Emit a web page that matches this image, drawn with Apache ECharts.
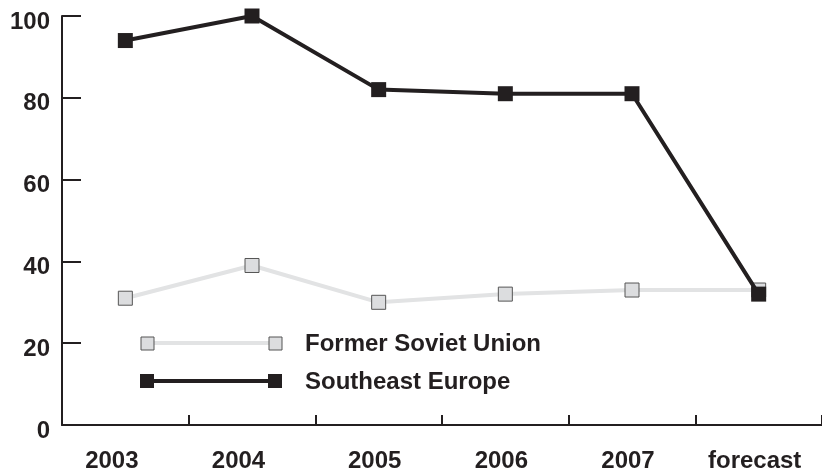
<!DOCTYPE html>
<html><head><meta charset="utf-8">
<script src="https://cdn.jsdelivr.net/npm/echarts@6/dist/echarts.min.js"></script>
<style>html,body{margin:0;padding:0;background:#fff}#c{width:822px;height:473px}</style>
</head><body><div id="c"></div>
<script>
const categories = ['2003','2004','2005','2006','2007','forecast'];
const formerSovietUnion = [31, 39, 30, 32, 33, 33];
const southeastEurope = [94, 100, 82, 81, 81, 32];
const yTicks = [0, 20, 40, 60, 80, 100];

const dark = '#231f20';
const font = '"Liberation Sans", Arial, sans-serif';
const chart = echarts.init(document.getElementById('c'), null, {renderer:'canvas'});
chart.setOption({
  animation:false,
  grid:{left:62, right:-5, top:16, bottom:48, containLabel:false},
  xAxis:{type:'category', data:categories, boundaryGap:true,
    axisLine:{lineStyle:{color:dark, width:2}},
    axisTick:{show:true, inside:true, length:10, interval:0, alignWithLabel:false, lineStyle:{color:dark, width:2}},
    axisLabel:{interval:0, hideOverlap:false, color:dark, fontFamily:font, fontWeight:'bold', fontSize:24, margin:24,
      formatter:(v, i) => (i < 2 ? '{a|' : '{b|') + v + '}',
      rich:{
        a:{color:dark, fontFamily:font, fontWeight:'bold', fontSize:24, padding:[0,27,0,0]},
        b:{color:dark, fontFamily:font, fontWeight:'bold', fontSize:24, padding:[0,8,0,0]}
      }}},
  yAxis:{type:'value', min:yTicks[0], max:yTicks[yTicks.length-1], interval:20,
    splitLine:{show:false},
    axisLine:{show:true, lineStyle:{color:dark, width:2}},
    axisTick:{show:true, inside:true, length:19, lineStyle:{color:dark, width:2}},
    axisLabel:{color:dark, fontFamily:font, fontWeight:'bold', fontSize:24, margin:12, verticalAlign:'top', lineHeight:12}},
  series:[
    {name:'Former Soviet Union', type:'line', data:formerSovietUnion, symbol:'rect', symbolSize:14,
     lineStyle:{color:'#e2e3e4', width:4}, itemStyle:{color:'#dcdddf', borderColor:'#555', borderWidth:1}, z:2},
    {name:'Southeast Europe', type:'line', data:southeastEurope, symbol:'rect', symbolSize:15,
     lineStyle:{color:dark, width:4}, itemStyle:{color:dark}, z:3}
  ],
  graphic:[
    {type:'line', shape:{x1:147,y1:343,x2:275,y2:343}, style:{stroke:'#e2e3e4', lineWidth:4}},
    {type:'rect', shape:{x:141,y:337,width:13,height:13}, style:{fill:'#dcdddf', stroke:'#555', lineWidth:1}},
    {type:'rect', shape:{x:269,y:337,width:13,height:13}, style:{fill:'#dcdddf', stroke:'#555', lineWidth:1}},
    {type:'text', x:305, y:344, style:{text:'Former Soviet Union', fill:dark, font:'bold 24px '+font, verticalAlign:'middle'}},
    {type:'line', shape:{x1:147,y1:381,x2:275,y2:381}, style:{stroke:dark, lineWidth:4}},
    {type:'rect', shape:{x:140,y:374,width:14,height:14}, style:{fill:dark}},
    {type:'rect', shape:{x:268,y:374,width:14,height:14}, style:{fill:dark}},
    {type:'text', x:305, y:382, style:{text:'Southeast Europe', fill:dark, font:'bold 24px '+font, verticalAlign:'middle'}}
  ]
});
</script></body></html>
